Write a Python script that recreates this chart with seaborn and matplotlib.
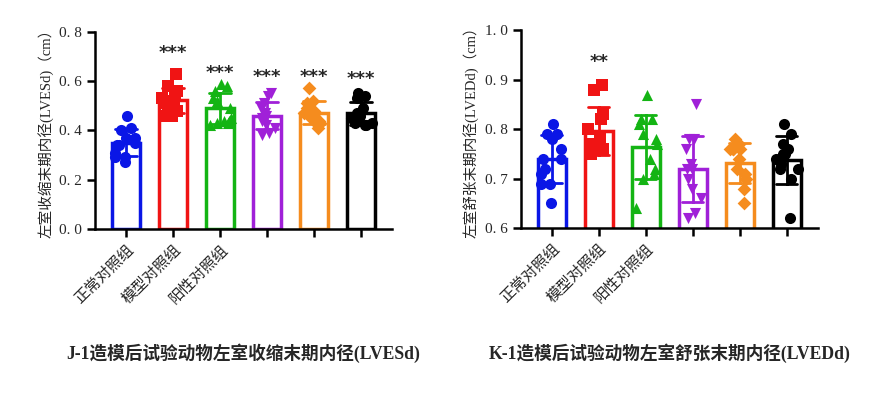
import numpy as np
import pandas as pd
import seaborn as sns
import matplotlib
matplotlib.use("Agg")
import matplotlib.pyplot as plt

# groups and styling per group
groups = ["正常对照组", "模型对照组", "阳性对照组", "g4", "g5", "g6"]
xlabels = ["正常对照组", "模型对照组", "阳性对照组", "", "", ""]
colors = ["#0a16e6", "#f01414", "#14b414", "#a020d8", "#f58c1e", "#000000"]
markers = ["o", "s", "^", "v", "D", "o"]

# J-1: LVESd (cm)
lvesd = [
    [0.46, 0.41, 0.40, 0.37, 0.37, 0.35, 0.34, 0.34, 0.31, 0.29, 0.29, 0.27],
    [0.63, 0.58, 0.56, 0.55, 0.53, 0.52, 0.51, 0.50, 0.49, 0.48, 0.46, 0.46],
    [0.59, 0.58, 0.56, 0.53, 0.52, 0.49, 0.45, 0.44, 0.44, 0.43, 0.43, 0.42],
    [0.55, 0.54, 0.51, 0.49, 0.47, 0.46, 0.45, 0.44, 0.42, 0.41, 0.39, 0.38],
    [0.57, 0.52, 0.51, 0.49, 0.48, 0.47, 0.46, 0.45, 0.44, 0.43, 0.42, 0.41],
    [0.55, 0.54, 0.53, 0.49, 0.47, 0.46, 0.45, 0.44, 0.43, 0.43, 0.42, 0.42],
]
stars_j = ["", "***", "***", "***", "***", "***"]
stars_j_y = [0, 0.713, 0.634, 0.618, 0.618, 0.61]

# K-1: LVEDd (cm)
lvedd = [
    [0.81, 0.79, 0.79, 0.78, 0.76, 0.74, 0.74, 0.72, 0.71, 0.69, 0.69, 0.65],
    [0.89, 0.88, 0.83, 0.82, 0.80, 0.78, 0.77, 0.76, 0.76, 0.76, 0.76, 0.75],
    [0.87, 0.82, 0.82, 0.81, 0.79, 0.78, 0.77, 0.74, 0.72, 0.71, 0.70, 0.64],
    [0.85, 0.78, 0.78, 0.76, 0.73, 0.72, 0.72, 0.70, 0.68, 0.66, 0.63, 0.62],
    [0.78, 0.77, 0.76, 0.76, 0.76, 0.76, 0.74, 0.72, 0.71, 0.70, 0.68, 0.65],
    [0.81, 0.79, 0.77, 0.76, 0.75, 0.75, 0.74, 0.73, 0.72, 0.72, 0.70, 0.62],
]
stars_k = ["", "**", "", "", "", ""]
stars_k_y = [0, 0.935, 0, 0, 0, 0]

sns.set_style("ticks")
plt.rcParams['font.family'] = ['Liberation Serif', 'Noto Sans CJK SC']
plt.rcParams['axes.unicode_minus'] = False


def long_df(values):
    rows = []
    for g, vals in zip(groups, values):
        for v in vals:
            rows.append({"group": g, "value": v})
    return pd.DataFrame(rows)


def draw(ax, values, stars, stars_y, ylim, yticks, ylabel, title):
    df = long_df(values)
    sns.barplot(data=df, x="group", y="value", hue="group", order=groups,
                hue_order=groups, palette=colors, fill=False, linewidth=2.5,
                width=0.6, errorbar="sd", capsize=0.45,
                err_kws={"linewidth": 2}, legend=False, ax=ax)
    np.random.seed(3)
    for g, c, m in zip(groups, colors, markers):
        sub = df[df["group"] == g]
        sns.stripplot(data=sub, x="group", y="value", order=groups, color=c,
                      marker=m, size=8 if m != "D" else 7, jitter=0.25, ax=ax)
    for i, (s, sy) in enumerate(zip(stars, stars_y)):
        if s:
            ax.text(i, sy, s, ha="center", va="center",
                    fontsize=13, fontweight="bold", family="DejaVu Sans")
    ax.set_ylim(*ylim)
    ax.set_xlim(-0.66, 5.66)
    ax.set_yticks(yticks)
    ax.set_yticklabels([f"{t:.1f}".replace(".", ". ") for t in yticks], fontsize=11)
    ax.set_xticks(range(len(groups)))
    ax.set_xticklabels(xlabels, rotation=45, ha="right", rotation_mode="anchor",
                       fontsize=11)
    ax.set_xlabel("")
    ax.set_ylabel(ylabel, fontsize=10.5, labelpad=4)
    ax.tick_params(width=1.8, length=6, color="black")
    for sp in ["left", "bottom"]:
        ax.spines[sp].set_linewidth(1.8)
        ax.spines[sp].set_color("black")
    sns.despine(ax=ax)
    ax.text(0.5, -0.63, title, transform=ax.transAxes, ha="center", va="center",
            fontsize=12.7, fontweight="bold")


fig = plt.figure(figsize=(8.87, 4.03), dpi=100)
ax1 = fig.add_axes([0.107, 0.432, 0.335, 0.489])
ax2 = fig.add_axes([0.587, 0.434, 0.335, 0.491])

draw(ax1, lvesd, stars_j, stars_j_y, (0, 0.8), [0.0, 0.2, 0.4, 0.6, 0.8],
     "左室收缩末期内径(LVESd)（cm）", "J-1造模后试验动物左室收缩末期内径(LVESd)")
draw(ax2, lvedd, stars_k, stars_k_y, (0.6, 1.0), [0.6, 0.7, 0.8, 0.9, 1.0],
     "左室舒张末期内径(LVEDd)（cm）", "K-1造模后试验动物左室舒张末期内径(LVEDd)")

fig.savefig("out.png", dpi=100, facecolor="white")
